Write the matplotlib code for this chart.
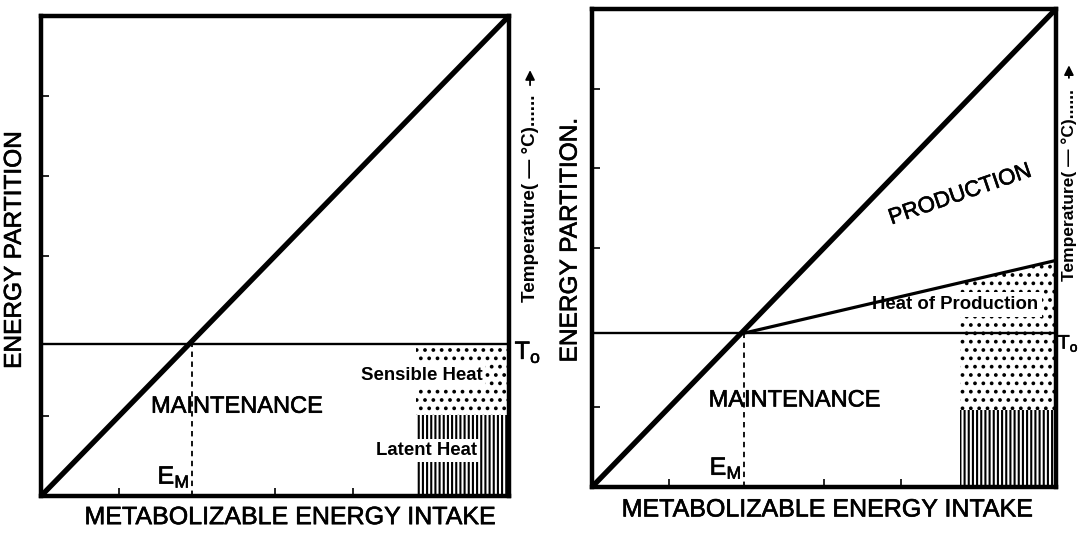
import matplotlib.pyplot as plt
import matplotlib.patheffects as pe

plt.rcParams['font.family'] = ['Liberation Sans', 'DejaVu Sans']
plt.rcParams['hatch.linewidth'] = 1.5
plt.rcParams['hatch.color'] = 'black'

# ── Data (fractions of the axis range) ───────────────────────────────────────
INTAKE = [0.0, 1.0]              # metabolizable energy intake
PARTITION = [0.0, 1.0]           # total energy partition (diagonal)
MAINT_LEVEL = [0.317, 0.322]     # T_o / maintenance level, left and right panel
EM = [0.323, 0.328]              # maintenance intake E_M
HEAT_PROD_END = 0.474            # heat of production at full intake (right panel)
HATCH_X0 = [0.802, 0.794]        # start of the heat-loss shading
LATENT_TOP = [0.169, 0.162]      # top of latent heat band
X_TICKS = [1 / 6, 3 / 6, 4 / 6]
Y_TICKS = [1 / 6, 3 / 6, 4 / 6, 5 / 6]

fig = plt.figure(figsize=(10.8, 5.35), dpi=100, facecolor='white')
ax_l = fig.add_axes([0.0380, 0.0729, 0.4333, 0.8972])
ax_r = fig.add_axes([0.5481, 0.0897, 0.4296, 0.8935])

LABEL = 18
MID = 17
SMALL = 13.4
HEAVY = [pe.withStroke(linewidth=0.45, foreground='black')]


def base_panel(ax, i):
    ax.set_xlim(0, 1)
    ax.set_ylim(0, 1)
    for s in ax.spines.values():
        s.set_linewidth(3.2)
    ax.set_xticks(X_TICKS)
    ax.set_yticks(Y_TICKS)
    ax.tick_params(direction='in', length=6, width=1.2,
                   labelbottom=False, labelleft=False)

    # total energy diagonal
    ax.plot(INTAKE, PARTITION, color='black', lw=3.8, solid_capstyle='butt',
            zorder=4, clip_on=False)
    # maintenance level
    ax.axhline(MAINT_LEVEL[i], color='black', lw=1.7, zorder=4)
    # E_M dashed
    ax.plot([EM[i], EM[i]], [0, MAINT_LEVEL[i]], color='black', lw=1.3,
            ls=(0, (3, 2.5)), zorder=3)

    # heat-loss shading: latent (vertical lines) and sensible (dots)
    ax.fill_between([HATCH_X0[i], 1], 0, LATENT_TOP[i], facecolor='white',
                    edgecolor='black', linewidth=0, hatch='||||', zorder=1)
    ax.fill_between([HATCH_X0[i], 1], LATENT_TOP[i], MAINT_LEVEL[i],
                    facecolor='white', edgecolor='black', linewidth=0,
                    hatch='..', zorder=1)

    ax.text(EM[i] - 0.04, 0.04, r'$\mathregular{E_M}$', fontsize=18,
            ha='center', va='center', zorder=5, path_effects=HEAVY)


base_panel(ax_l, 0)
base_panel(ax_r, 1)

# ── Left panel texts ─────────────────────────────────────────────────────────
ax_l.text(0.418, 0.186, 'MAINTENANCE', fontsize=MID, ha='center',
          va='center', path_effects=HEAVY)
ax_l.text(0.813, 0.252, 'Sensible Heat', fontsize=SMALL, fontweight='bold',
          ha='center', va='center', zorder=3,
          bbox=dict(fc='white', ec='none', pad=2))
ax_l.text(0.824, 0.095, 'Latent Heat', fontsize=SMALL, fontweight='bold',
          ha='center', va='center', zorder=3,
          bbox=dict(fc='white', ec='none', pad=2))
ax_l.text(0.531, -0.044, 'METABOLIZABLE ENERGY INTAKE', fontsize=LABEL,
          ha='center', va='center', transform=ax_l.transAxes,
          path_effects=HEAVY)
ax_l.text(-0.056, 0.511, 'ENERGY PARTITION', fontsize=17.6, rotation=90,
          ha='center', va='center', transform=ax_l.transAxes,
          path_effects=HEAVY)
ax_l.text(1.012, 0.30, r'$\mathregular{T_o}$', fontsize=18, ha='left',
          va='center', transform=ax_l.transAxes, path_effects=HEAVY)
ax_l.text(1.045, 0.405, 'Temperature( \u2014 \u00b0C)......', fontsize=13.6,
          fontweight='bold', rotation=90, ha='center', va='bottom',
          transform=ax_l.transAxes)
ax_l.annotate('', xy=(1.045, 0.893), xytext=(1.045, 0.85),
              xycoords='axes fraction',
              arrowprops=dict(arrowstyle='-|>', lw=1.3, color='black',
                              mutation_scale=14))

# ── Right panel texts and production wedge ───────────────────────────────────
ax_r.plot([EM[1], 1], [MAINT_LEVEL[1], HEAT_PROD_END], color='black', lw=2.3,
          zorder=4)
heat_x = [HATCH_X0[1], 1]
heat_top = [MAINT_LEVEL[1] + (HEAT_PROD_END - MAINT_LEVEL[1])
            * (x - EM[1]) / (1 - EM[1]) for x in heat_x]
ax_r.fill_between(heat_x, MAINT_LEVEL[1], heat_top, facecolor='white',
                  edgecolor='black', linewidth=0, hatch='..', zorder=1)
ax_r.text(0.782, 0.382, 'Heat of Production', fontsize=SMALL,
          fontweight='bold', ha='center', va='center', zorder=3,
          bbox=dict(fc='white', ec='none', pad=3))
ax_r.text(0.794, 0.611, 'PRODUCTION', fontsize=16, rotation=19,
          ha='center', va='center', path_effects=HEAVY)
ax_r.text(0.436, 0.181, 'MAINTENANCE', fontsize=MID, ha='center',
          va='center', path_effects=HEAVY)
ax_r.text(0.506, -0.047, 'METABOLIZABLE ENERGY INTAKE', fontsize=LABEL,
          ha='center', va='center', transform=ax_r.transAxes,
          path_effects=HEAVY)
ax_r.text(-0.046, 0.515, 'ENERGY PARTITION.', fontsize=17.6, rotation=90,
          ha='center', va='center', transform=ax_r.transAxes,
          path_effects=HEAVY)
ax_r.text(1.004, 0.30, r'$\mathregular{T_o}$', fontsize=14, ha='left',
          va='center', transform=ax_r.transAxes, path_effects=HEAVY)
ax_r.text(1.028, 0.431, 'Temperature( \u2014 \u00b0C)......', fontsize=12.5,
          fontweight='bold', rotation=90, ha='center', va='bottom',
          transform=ax_r.transAxes)
ax_r.annotate('', xy=(1.028, 0.888), xytext=(1.028, 0.85),
              xycoords='axes fraction',
              arrowprops=dict(arrowstyle='-|>', lw=1.3, color='black',
                              mutation_scale=14))

fig.savefig('out.png', dpi=100, facecolor='white')
